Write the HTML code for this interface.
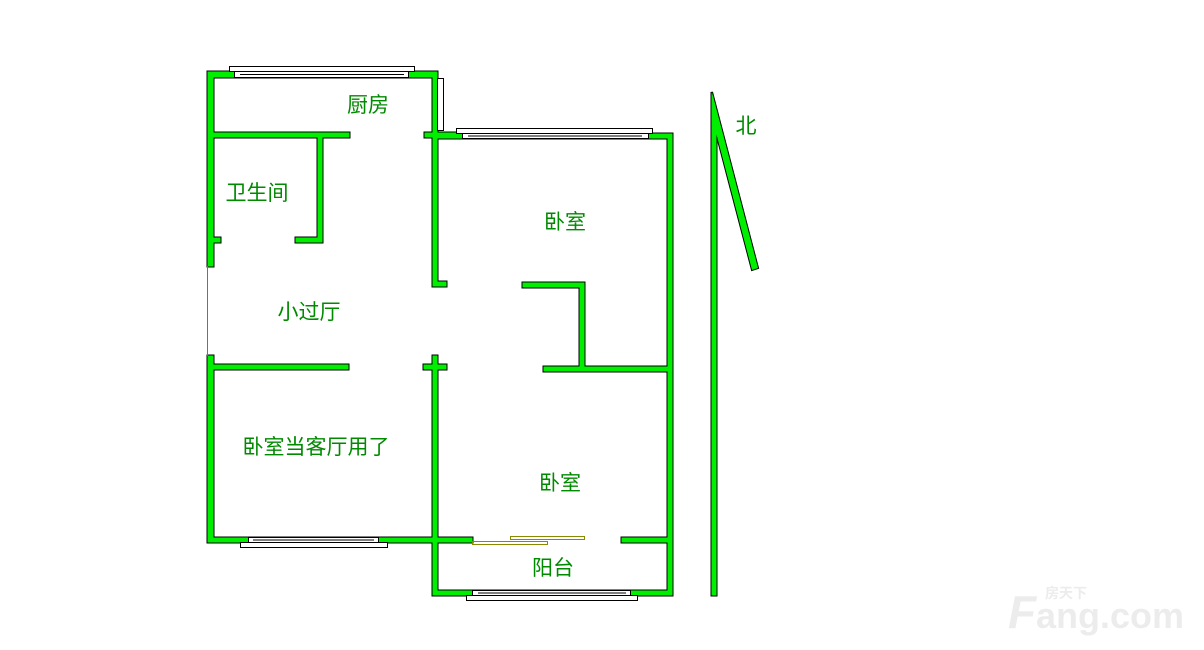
<!DOCTYPE html>
<html><head><meta charset="utf-8"><style>
html,body{margin:0;padding:0;background:#fff;}
svg{display:block;}
text{font-family:"Liberation Sans","Noto Sans CJK SC",sans-serif;fill:#008a00;}
</style></head><body>
<svg width="1204" height="650" viewBox="0 0 1204 650" xmlns="http://www.w3.org/2000/svg">
<defs>
<g id="walls">
<rect x="207.5" y="71.5" width="6" height="195"/>
<rect x="207.5" y="355.5" width="6" height="187"/>
<rect x="207.5" y="71.5" width="230" height="6"/>
<rect x="432.5" y="71.5" width="5" height="62"/>
<rect x="207.5" y="132.5" width="142" height="5"/>
<rect x="317.5" y="132.5" width="5" height="110"/>
<rect x="295.5" y="237.5" width="27" height="5"/>
<rect x="207.5" y="237.5" width="13" height="5"/>
<rect x="424.5" y="132.5" width="40" height="5"/>
<rect x="432.5" y="132.5" width="5" height="153"/>
<rect x="432.5" y="281.5" width="14" height="5"/>
<rect x="432.5" y="133.5" width="240" height="5"/>
<rect x="667.5" y="133.5" width="5" height="462"/>
<rect x="522.5" y="282.5" width="62" height="5"/>
<rect x="579.5" y="282.5" width="5" height="88"/>
<rect x="543.5" y="366.5" width="129" height="5"/>
<rect x="207.5" y="364.5" width="141" height="5"/>
<rect x="423.5" y="364.5" width="23" height="5"/>
<rect x="432.5" y="355.5" width="5" height="240"/>
<rect x="207.5" y="537.5" width="265" height="5"/>
<rect x="621.5" y="537.5" width="51" height="5"/>
<rect x="432.5" y="590.5" width="240" height="5"/>
<polygon points="711.5,92 716.5,112 716.5,595.5 711.5,595.5"/>
<polygon points="712,92 758,268 752,270 714,125"/>
</g>
</defs>
<use href="#walls" fill="#000" stroke="#000" stroke-width="2"/>
<use href="#walls" fill="#00ee00" stroke="none"/>
<g fill="#fff" stroke="#000" stroke-width="1">
<rect x="229.5" y="66.5" width="185" height="5"/>
<rect x="234.5" y="71.5" width="174" height="6"/>
<line x1="240" y1="74.5" x2="404" y2="74.5"/>
<rect x="437.5" y="78.5" width="6" height="52"/>
<rect x="456.5" y="128.5" width="196" height="5"/>
<rect x="462.5" y="133.5" width="186" height="5"/>
<line x1="468" y1="136" x2="642" y2="136"/>
<rect x="240.5" y="542.5" width="147" height="5"/>
<rect x="248.5" y="537.5" width="130" height="5"/>
<line x1="253" y1="540" x2="374" y2="540"/>
<rect x="466.5" y="595.5" width="171" height="5"/>
<rect x="472.5" y="590.5" width="158" height="5"/>
<line x1="478" y1="593" x2="626" y2="593"/>
</g>
<line x1="207.5" y1="266" x2="207.5" y2="356" stroke="#808000" stroke-width="1"/>
<g fill="none" stroke="#8a8a00" stroke-width="1">
<rect x="510.5" y="536.5" width="74" height="3"/>
<rect x="472.5" y="541.5" width="75" height="3"/>
</g>
<g font-size="21" text-anchor="middle">
<text x="368" y="112">厨房</text>
<text x="257" y="200">卫生间</text>
<text x="565" y="229">卧室</text>
<text x="309" y="319">小过厅</text>
<text x="316" y="454">卧室当客厅用了</text>
<text x="560" y="490">卧室</text>
<text x="553" y="575">阳台</text>
<text x="746" y="133">北</text>
</g>
<g font-weight="bold">
<text x="1008" y="628" font-size="46" style="fill:#ececec;font-style:italic">F</text>
<text x="1036" y="628" font-size="36" style="fill:#ececec">ang.com</text>
<text x="1045" y="598" font-size="14" style="fill:#ececec">房天下</text>
</g>
</svg>
</body></html>
